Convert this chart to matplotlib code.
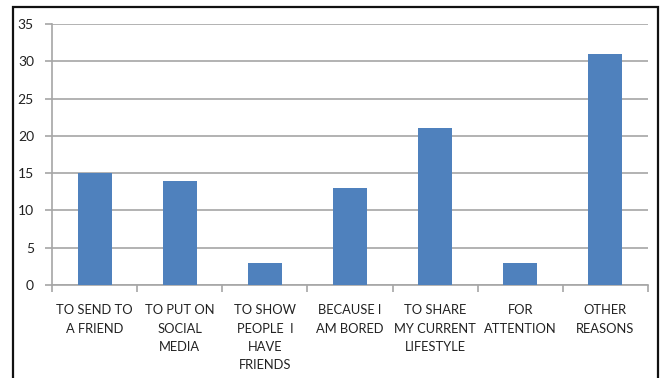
import numpy as np
import matplotlib.pyplot as plt
from matplotlib.patches import Rectangle

categories = ["TO SEND TO\nA FRIEND", "TO PUT ON\nSOCIAL\nMEDIA", "TO SHOW\nPEOPLE  I\nHAVE\nFRIENDS",
              "BECAUSE I\nAM BORED", "TO SHARE\nMY CURRENT\nLIFESTYLE", "FOR\nATTENTION", "OTHER\nREASONS"]
values = [15, 14, 3, 13, 21, 3, 31]
yticks = [0, 5, 10, 15, 20, 25, 30, 35]

plt.rcParams['font.family'] = ['Lato', 'DejaVu Sans']

W, H = 661, 378
fig = plt.figure(figsize=(W / 100, H / 100), dpi=100)
ax = fig.add_axes([52 / W, 1 - 285 / H, (648 - 52) / W, (285 - 24) / H])

x = np.arange(len(values))
ax.bar(x, values, width=0.4, color='#4F81BD', zorder=3)

ax.set_xlim(-0.5, len(values) - 0.5)
ax.set_ylim(0, 35)
ax.set_yticks(yticks)
ax.yaxis.grid(True, color='#A6A6A6', linewidth=1.2, zorder=0)

# tick marks between categories
ax.set_xticks(np.arange(-0.5, len(values) + 0.5, 1), minor=True)
ax.set_xticks(x)
ax.set_xticklabels(categories, fontsize=9.3, color='#222222', linespacing=1.62, va='top')
ax.tick_params(axis='x', which='major', length=0, pad=14)
ax.tick_params(axis='x', which='minor', length=5, color='#A6A6A6', width=1.2)
ax.tick_params(axis='y', length=5, color='#A6A6A6', width=1.2, labelsize=10, labelcolor='#222222', pad=8)

for s in ['top', 'right']:
    ax.spines[s].set_visible(False)
for s in ['left', 'bottom']:
    ax.spines[s].set_color('#A6A6A6')
    ax.spines[s].set_linewidth(1.2)

# outer frame around the chart
fig.patches.append(Rectangle((13.5 / W, -0.05), (658 - 13.5) / W, 1.05 - 7 / H,
                             transform=fig.transFigure, fill=False,
                             edgecolor='#111111', linewidth=1.6))

fig.savefig('out.png', dpi=100)
